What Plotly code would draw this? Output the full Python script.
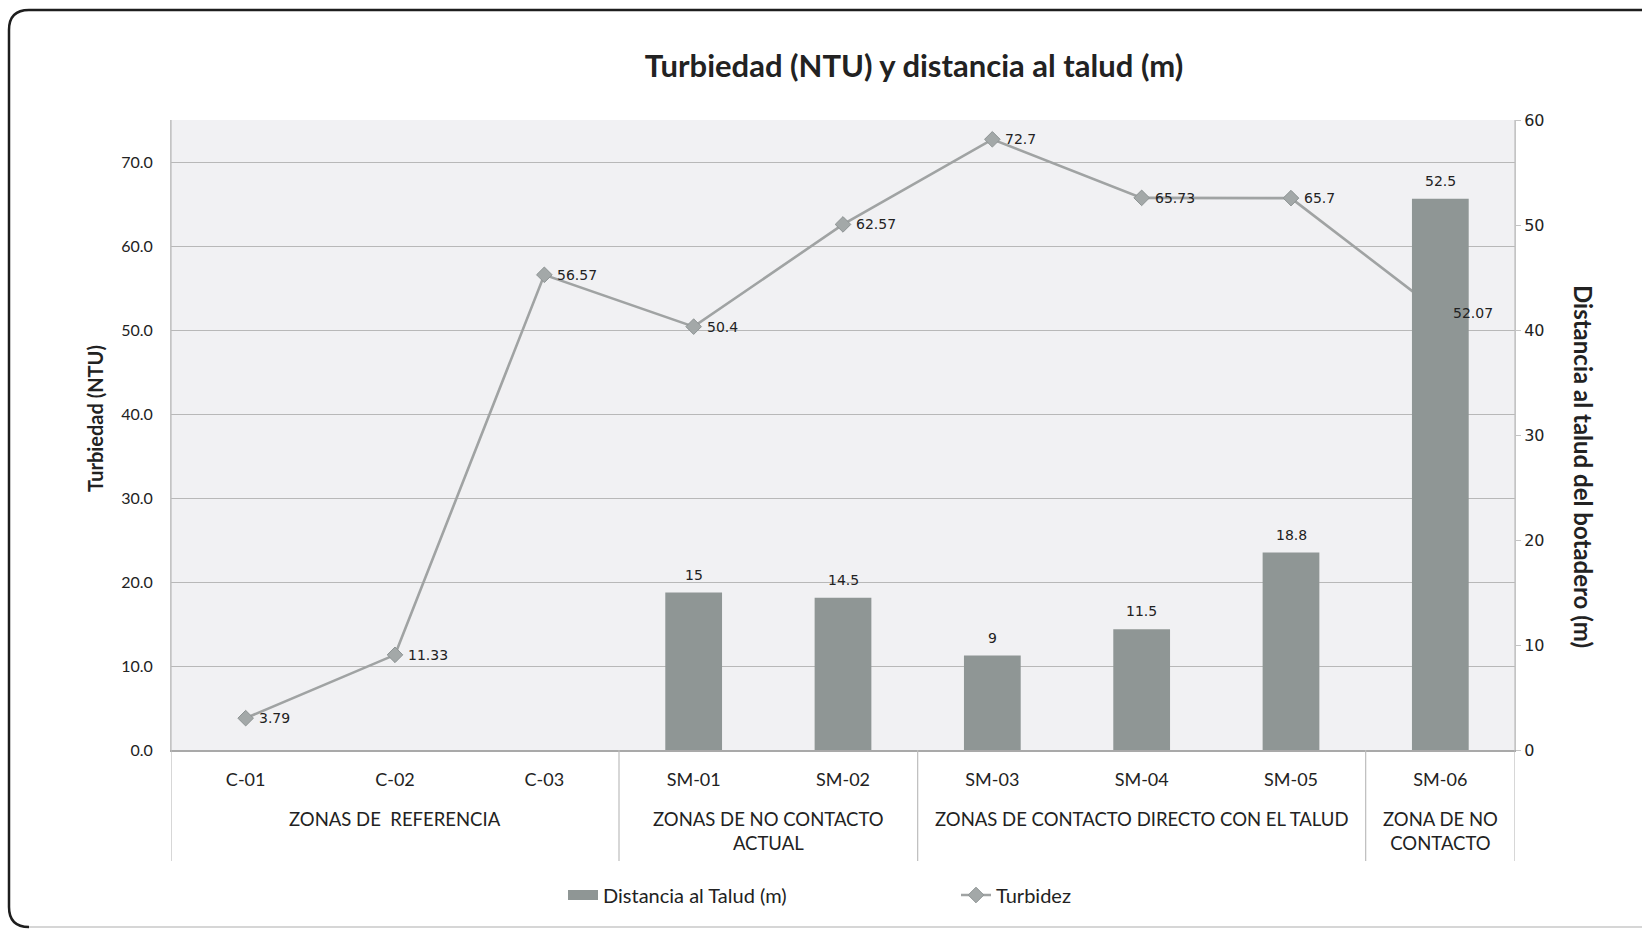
import plotly.graph_objects as go

# ---------------- data ----------------
stations = ["C-01", "C-02", "C-03", "SM-01", "SM-02", "SM-03", "SM-04", "SM-05", "SM-06"]
turbidez = [3.79, 11.33, 56.57, 50.4, 62.57, 72.7, 65.73, 65.7, 52.07]
distancia = [None, None, None, 15, 14.5, 9, 11.5, 18.8, 52.5]
zone_labels = ["ZONAS DE  REFERENCIA", "ZONAS DE NO CONTACTO<br>ACTUAL",
               "ZONAS DE CONTACTO DIRECTO CON EL TALUD", "ZONA DE NO<br>CONTACTO"]
zone_sizes = [3, 2, 3, 1]
left_ticks = [0, 10, 20, 30, 40, 50, 60, 70]
right_ticks = [0, 10, 20, 30, 40, 50, 60]

# ---------------- layout constants (pixels) ----------------
W, H = 1642, 930
L, R, T, B = 171, 127, 120, 180
PW, PH = W - L - R, H - T - B

def px_x(px):
    return (px - L) / PW

def px_y(py):
    return (H - B - py) / PH

CAL = "Lato, 'Open Sans', sans-serif"
VER = "'DejaVu Sans', Verdana, sans-serif"
TXT = "#222222"
BAR_COLOR = "#8f9695"

fig = go.Figure()

# line (primary axis, drawn beneath bars)
fig.add_trace(go.Scatter(
    x=stations, y=turbidez, name="Turbidez", mode="lines+markers",
    line=dict(color="#a0a3a3", width=2.6),
    marker=dict(symbol="diamond", size=12, color="#a3a8a8",
                line=dict(color="#8e9494", width=1)),
    yaxis="y", legendrank=2))

# bars (secondary axis)
fig.add_trace(go.Bar(
    x=stations, y=distancia, name="Distancia al Talud (m)",
    marker=dict(color=BAR_COLOR, line=dict(width=0)), width=0.38,
    yaxis="y2", showlegend=False))

# legend swatch for the bars (wide rectangle like the original)
fig.add_trace(go.Scatter(
    x=[None], y=[None], name="Distancia al Talud (m)", mode="lines",
    line=dict(color=BAR_COLOR, width=12), yaxis="y2", legendrank=1,
    hoverinfo="skip"))

annotations = []
# bar labels
for s, v in zip(stations, distancia):
    if v is None:
        continue
    annotations.append(dict(
        x=s, y=v, xref="x", yref="y2", text=f"{v:g}", showarrow=False,
        xanchor="center", yanchor="bottom", yshift=8,
        font=dict(family=VER, size=14, color=TXT)))
# line labels
for s, v in zip(stations, turbidez):
    annotations.append(dict(
        x=s, y=v, xref="x", yref="y", text=f"{v:g}", showarrow=False,
        xanchor="left", yanchor="middle", xshift=11,
        font=dict(family=VER, size=14, color=TXT)))

# zone dividers and group labels
shapes = []
start = 0
bounds = [-0.5]
for lab, n in zip(zone_labels, zone_sizes):
    center = start + (n - 1) / 2
    annotations.append(dict(
        x=center, y=px_y(806), xref="x", yref="paper", text=lab,
        showarrow=False, yanchor="top", xanchor="center",
        font=dict(family=CAL, size=18.5, color=TXT)))
    start += n
    bounds.append(start - 0.5)

for b in bounds:
    y_top = 1 if b in (bounds[0], bounds[-1]) else 0
    shapes.append(dict(type="line", xref="x", yref="paper",
                       x0=b, x1=b, y0=y_top, y1=px_y(861),
                       line=dict(color="#bdbdbd", width=1.2)))

# axis titles
annotations.append(dict(
    x=px_x(95), y=px_y(419), xref="paper", yref="paper",
    xanchor="center", yanchor="middle",
    text="<b>Turbiedad (NTU)</b>", textangle=-90, showarrow=False,
    font=dict(family=CAL, size=20, color=TXT)))
annotations.append(dict(
    x=px_x(1584), y=px_y(466), xref="paper", yref="paper",
    xanchor="center", yanchor="middle",
    text="<b>Distancia al talud del botadero (m)</b>", textangle=90, showarrow=False,
    font=dict(family=CAL, size=24, color=TXT)))

# outer frame (rounded corner at left)
xl, xr = px_x(9), px_x(W + 5)
yt, yb = px_y(10), px_y(927)
rx, ry = 20 / PW, 20 / PH
frame_path = (f"M {xr},{yt} L {xl + rx},{yt} Q {xl},{yt} {xl},{yt - ry} "
              f"L {xl},{yb + ry} Q {xl},{yb} {xl + rx},{yb}")
shapes.append(dict(type="path", xref="paper", yref="paper", path=frame_path,
                   line=dict(color="#1e1e1e", width=2.5)))
shapes.append(dict(type="line", xref="paper", yref="paper",
                   x0=xl + rx, x1=xr, y0=yb, y1=yb,
                   line=dict(color="#d6d6d6", width=2)))

fig.update_layout(
    width=W, height=H,
    margin=dict(l=L, r=R, t=T, b=B, autoexpand=False),
    paper_bgcolor="white", plot_bgcolor="#f1f1f3",
    title=dict(text="<b>Turbiedad (NTU) y distancia al talud (m)</b>",
               x=914 / W, xref="container", xanchor="center",
               y=1 - 66 / H, yref="container", yanchor="middle",
               font=dict(family=CAL, size=31, color=TXT)),
    xaxis=dict(type="category", range=[-0.5, 8.5], showgrid=False,
               showline=True, linecolor="#a9a9a9", linewidth=1.5,
               ticks="", ticklabelstandoff=13,
               tickfont=dict(family=CAL, size=18, color=TXT)),
    yaxis=dict(range=[0, 75], tickvals=left_ticks, tickformat=".1f",
               showgrid=True, gridcolor="#b8b8b8", gridwidth=1,
               showline=True, linecolor="#c4c4c4", linewidth=1,
               ticks="", ticklabelstandoff=14, zeroline=False,
               tickfont=dict(family=CAL, size=16, color=TXT)),
    yaxis2=dict(range=[0, 60], tickvals=right_ticks, overlaying="y", side="right",
                showgrid=False, zeroline=False, showline=True,
                linecolor="#c4c4c4", linewidth=1,
                ticks="outside", ticklen=5, tickcolor="#c4c4c4",
                tickfont=dict(family=VER, size=16, color=TXT)),
    barmode="overlay",
    legend=dict(orientation="h", x=px_x(563), xanchor="left",
                y=px_y(895), yanchor="middle", entrywidth=348,
                font=dict(family=CAL, size=20, color=TXT),
                bgcolor="rgba(0,0,0,0)"),
    shapes=shapes, annotations=annotations,
)

fig.write_html("out.html", config={"displayModeBar": False},
               post_script="document.body.style.margin='0px';")
